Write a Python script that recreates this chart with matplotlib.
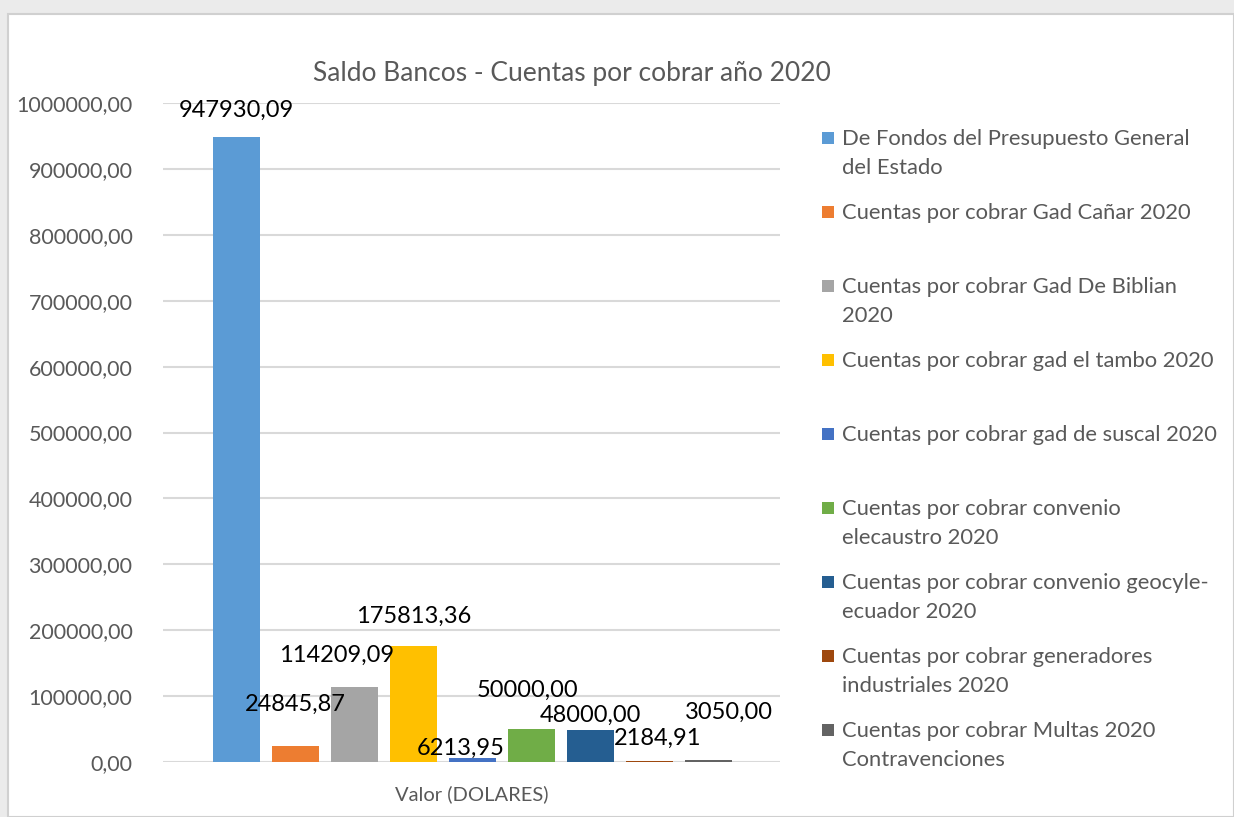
import matplotlib.pyplot as plt
from matplotlib.patches import Rectangle

plt.rcParams['font.family'] = ['Lato', 'DejaVu Sans']

categorias = [
    "De Fondos del Presupuesto General\ndel Estado",
    "Cuentas por cobrar Gad Cañar 2020",
    "Cuentas por cobrar Gad De Biblian\n2020",
    "Cuentas por cobrar gad el tambo 2020",
    "Cuentas por cobrar gad de suscal 2020",
    "Cuentas por cobrar convenio\nelecaustro 2020",
    "Cuentas por cobrar convenio geocyle-\necuador 2020",
    "Cuentas por cobrar generadores\nindustriales 2020",
    "Cuentas por cobrar Multas 2020\nContravenciones",
]
valores = [947930.09, 24845.87, 114209.09, 175813.36, 6213.95,
           50000.00, 48000.00, 2184.91, 3050.00]
colores = ["#5B9BD5", "#ED7D31", "#A5A5A5", "#FFC000", "#4472C4",
           "#70AD47", "#255E91", "#9E480E", "#636363"]
# offsets (pixels) of the data labels from the top of each bar
lab_dx = [0, 0, -18, 0, -12, -4, 0, 8, 20]
lab_dy = [27, 41, 31, 30, 10, 39, 15, 22, 48]

def fmt(v):
    return f"{v:.2f}".replace(".", ",")

W, H = 1234, 817
fig = plt.figure(figsize=(W / 100, H / 100), dpi=100, facecolor="#ebebeb")
fig.patches.append(Rectangle((8 / W, 0), 1 - 8 / W, 1 - 14 / H,
                             transform=fig.transFigure, facecolor="white",
                             edgecolor="#d0d0d0", lw=1.5, zorder=-5))

ax = fig.add_axes([163 / W, 1 - 762 / H, (780 - 163) / W, (762 - 103) / H])
ax.set_facecolor("none")
x = list(range(len(valores)))
ax.bar(x, valores, width=0.8, color=colores, zorder=3)
ax.set_xlim(-1.246, 9.21)
ax.set_ylim(0, 1000000)
ax.set_yticks(range(0, 1000001, 100000))
ax.set_yticklabels([fmt(t) for t in range(0, 1000001, 100000)])
ax.grid(axis="y", color="#d9d9d9", lw=1.5, zorder=0)
for s in ax.spines.values():
    s.set_visible(False)
ax.tick_params(axis="y", length=0, labelsize=15.5, labelcolor="#595959", pad=22)
ax.set_xticks([])
ax.set_xlabel("Valor (DOLARES)", fontsize=14.5, color="#595959", labelpad=17)

for xi, v, dx, dy in zip(x, valores, lab_dx, lab_dy):
    ax.annotate(fmt(v), (xi, v), xytext=(dx, dy), textcoords="offset pixels",
                ha="center", va="center", fontsize=17, color="black", zorder=5)

fig.text(572 / W, 1 - 74 / H, "Saldo Bancos - Cuentas por cobrar año 2020",
         ha="center", va="center", fontsize=19, color="#595959")

# legend drawn by hand to mimic the wrapped Excel legend
for i, (nombre, c) in enumerate(zip(categorias, colores)):
    yc = 138 + 74 * i
    fig.patches.append(Rectangle((822 / W, 1 - (yc + 6) / H), 12 / W, 12 / H,
                                 transform=fig.transFigure, facecolor=c,
                                 edgecolor="none"))
    fig.text(842 / W, 1 - (yc - 9) / H, nombre, ha="left", va="top",
             fontsize=15.8, color="#595959", linespacing=1.55)

fig.savefig("out.png", dpi=100, facecolor=fig.get_facecolor())
